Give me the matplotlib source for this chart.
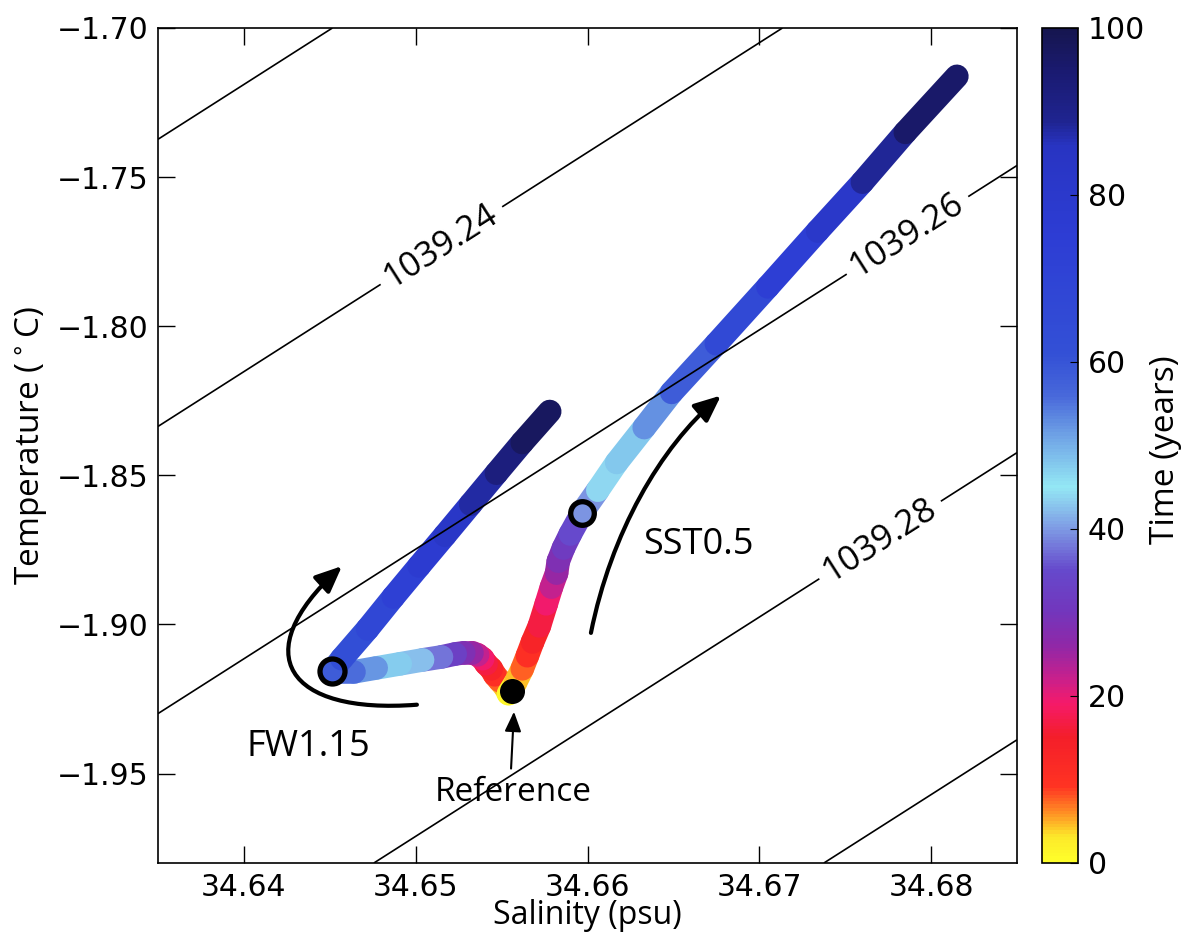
import numpy as np
import matplotlib
matplotlib.use("Agg")
import matplotlib.pyplot as plt
from matplotlib.colors import LinearSegmentedColormap, Normalize
from matplotlib.collections import LineCollection
from matplotlib.patches import FancyArrowPatch
from matplotlib.path import Path
from matplotlib.cm import ScalarMappable
from matplotlib.ticker import FuncFormatter

plt.rcParams['font.family'] = ['Open Sans', 'DejaVu Sans']

# FW1.15 run: time (years), salinity (psu), temperature (C)
fw_time = [0, 3, 6, 9, 12, 15, 18, 21, 24, 27, 30, 35, 40, 45, 50, 54, 57,
           60, 65, 70, 75, 80, 85, 90, 95, 100]
fw_sal = [34.6554, 34.6552, 34.6549, 34.6546, 34.6544, 34.6541, 34.6539, 34.6536,
          34.6533, 34.6528, 34.6523, 34.6515, 34.6504, 34.6491, 34.6477, 34.6464,
          34.6451, 34.6457, 34.6472, 34.6487, 34.6502, 34.6517, 34.6532, 34.6547,
          34.6562, 34.6578]
fw_temp = [-1.9232, -1.9209, -1.9189, -1.9169, -1.9149, -1.9132, -1.9115, -1.9102,
           -1.9095, -1.9095, -1.9099, -1.9109, -1.9119, -1.9132, -1.9146, -1.9159,
           -1.9159, -1.9115, -1.9015, -1.8908, -1.8804, -1.8701, -1.8597, -1.8493,
           -1.8390, -1.8286]

# SST0.5 run
sst_time = [0, 3, 6, 9, 12, 15, 18, 21, 24, 27, 30, 33, 37, 42, 46, 50, 55,
            62, 70, 78, 85, 92, 100]
sst_sal = [34.6554, 34.6558, 34.6562, 34.6565, 34.6568, 34.6572, 34.6576, 34.6579,
           34.6582, 34.6583, 34.6586, 34.6590, 34.6597, 34.6606, 34.6617, 34.6633,
           34.6649, 34.6675, 34.6705, 34.6734, 34.6760, 34.6785, 34.6815]
sst_temp = [-1.9232, -1.9196, -1.9149, -1.9105, -1.9059, -1.9005, -1.8931, -1.8875,
            -1.8828, -1.8788, -1.8744, -1.8697, -1.8624, -1.8550, -1.8457, -1.8340,
            -1.8222, -1.8059, -1.7868, -1.7681, -1.7517, -1.7350, -1.7162]

# marked states
ref_point = (34.6556, -1.9222)
fw_mark = (34.6451, -1.9156)
sst_mark = (34.6597, -1.8625)

# isopycnals (linear fit of the equation of state around the reference)
plain_levels = [1039.22, 1039.30]
label_levels = [1039.24, 1039.26, 1039.28]
rho0, s0, t0 = 1039.26, 34.635, -1.9299
beta, alpha = 0.7635, 0.2077
label_pos = [(34.6514, -1.7721), (34.6785, -1.7684), (34.6770, -1.8714)]

cmap_nodes = [
    (0.00, '#ffff2a'), (0.03, '#fce82a'), (0.06, '#ff8a24'), (0.09, '#ff3322'),
    (0.15, '#f41e2a'), (0.19, '#f51a6a'), (0.22, '#c8208c'), (0.26, '#8f28a8'),
    (0.30, '#7336bc'), (0.35, '#6649cc'), (0.40, '#7e9ae4'), (0.45, '#94e8f4'),
    (0.51, '#70a4e6'), (0.56, '#4868da'), (0.61, '#3350d6'), (0.75, '#2d3dd4'),
    (0.86, '#2834c2'), (0.89, '#1f2490'), (0.95, '#1a1a70'), (1.00, '#16164f'),
]
cmap = LinearSegmentedColormap.from_list('time', cmap_nodes)
norm = Normalize(0, 100)

fig = plt.figure(figsize=(11.83, 9.38), dpi=100)
ax = fig.add_axes([0.13356, 0.07996, 0.72612, 0.89019])
cax = fig.add_axes([0.88081, 0.07996, 0.03043, 0.89019])

xlim = (34.635, 34.685)
ylim = (-1.98, -1.70)


def draw_run(t, s, T):
    t = np.asarray(t, float)
    pts = np.column_stack([s, T])
    segs = np.stack([pts[:-1], pts[1:]], axis=1)
    lc = LineCollection(segs, cmap=cmap, norm=norm, linewidths=17,
                        capstyle='round', joinstyle='round', zorder=2)
    lc.set_array(0.5 * (t[:-1] + t[1:]))
    ax.add_collection(lc)


draw_run(fw_time, fw_sal, fw_temp)
draw_run(sst_time, sst_sal, sst_temp)

# density contours
S, T = np.meshgrid(np.linspace(*xlim, 60), np.linspace(*ylim, 60))
rho = rho0 + beta * (S - s0) - alpha * (T - t0)
ax.contour(S, T, rho, levels=plain_levels, colors='k', linewidths=1.2, zorder=3)
cs = ax.contour(S, T, rho, levels=label_levels, colors='k', linewidths=1.2, zorder=3)
ax.clabel(cs, manual=label_pos, fmt='%.2f', fontsize=25, inline=True,
          inline_spacing=8)

# markers
ax.plot(*fw_mark, 'o', ms=18, mfc='none', mec='k', mew=3.8, zorder=5)
ax.plot(*sst_mark, 'o', ms=17, mfc='none', mec='k', mew=3.8, zorder=5)
ax.plot(*ref_point, 'o', ms=17, mfc='k', mec='k', zorder=5)

# curved arrows
fw_arrow = [(34.65007, -1.92692), (34.64250, -1.93027), (34.64012, -1.90987), (34.64571, -1.88043)]
sst_arrow = [(34.66020, -1.90284), (34.66137, -1.86940), (34.66422, -1.84064), (34.66777, -1.82324)]
codes = [Path.MOVETO, Path.CURVE4, Path.CURVE4, Path.CURVE4]
for verts in (fw_arrow, sst_arrow):
    ar = FancyArrowPatch(path=Path(verts, codes),
                         arrowstyle='-|>,head_length=0.8,head_width=0.35',
                         mutation_scale=20, lw=3, color='k', zorder=4)
    ax.add_patch(ar)

ax.annotate('', xy=(34.65572, -1.92926), xytext=(34.65555, -1.94833),
            arrowprops=dict(arrowstyle='-|>,head_length=0.6,head_width=0.25',
                            lw=1.5, color='k', mutation_scale=20,
                            shrinkA=0, shrinkB=0), zorder=4)

ax.text(34.64378, -1.94100, 'FW1.15', fontsize=26, ha='center', va='center')
ax.text(34.66643, -1.87341, 'SST0.5', fontsize=26, ha='center', va='center')
ax.text(34.65566, -1.95650, 'Reference', fontsize=24, ha='center', va='center')

fmt = FuncFormatter(lambda v, pos: f'{v:.2f}'.replace('-', '\u2212'))
ax.set_xlim(*xlim)
ax.set_ylim(*ylim)
ax.set_xticks([34.64, 34.65, 34.66, 34.67, 34.68])
ax.set_yticks([-1.70, -1.75, -1.80, -1.85, -1.90, -1.95])
ax.xaxis.set_major_formatter(fmt)
ax.yaxis.set_major_formatter(fmt)
ax.tick_params(direction='in', length=12, width=1, top=True, right=True,
               labelsize=21.5, pad=7, labelfontfamily='DejaVu Sans')
for sp in ax.spines.values():
    sp.set_linewidth(1.2)

ax.set_xlabel('Salinity (psu)', fontsize=23)
ax.set_ylabel('Temperature ($^\\circ$C)', fontsize=24)
ax.xaxis.label.set_va('center')
ax.yaxis.label.set_va('center')
ax.xaxis.set_label_coords(0.5, -0.063)
ax.yaxis.set_label_coords(-0.147, 0.5)

sm = ScalarMappable(norm=norm, cmap=cmap)
cb = fig.colorbar(sm, cax=cax)
cb.set_ticks([0, 20, 40, 60, 80, 100])
cax.tick_params(direction='in', length=6, labelsize=21.5, pad=7,
                labelfontfamily='DejaVu Sans')
cb.outline.set_linewidth(1.2)
cb.set_label('Time (years)', fontsize=24)
cax.yaxis.label.set_va('center')
cax.yaxis.set_label_coords(3.42, 0.495)

fig.savefig('out.png', dpi=100)
